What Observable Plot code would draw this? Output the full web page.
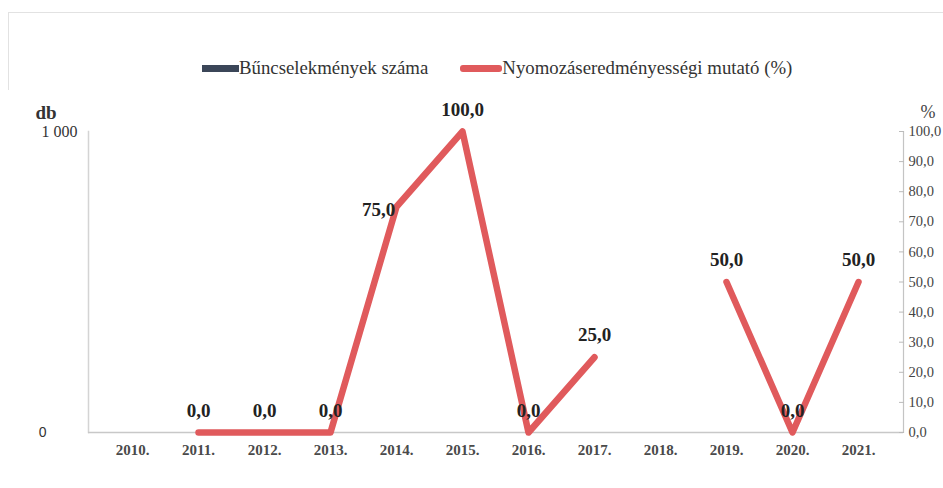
<!DOCTYPE html>
<html><head><meta charset="utf-8">
<script src="https://cdn.jsdelivr.net/npm/d3@7"></script>
<script src="https://cdn.jsdelivr.net/npm/@observablehq/plot@0.6"></script>
<style>
body{margin:0;background:#fff;}
#wrap{position:relative;width:943px;height:488px;overflow:hidden;background:#fff;}
#border{position:absolute;left:8px;top:12px;width:940px;height:480px;border-top:1px solid #e2e2e2;border-left:1px solid #e2e2e2;}
#legend{position:relative;height:90px;box-sizing:border-box;padding-top:46px;padding-left:202px;display:flex;align-items:center;font-family:"Liberation Serif","DejaVu Serif",serif;font-size:18.8px;color:#333;}
.sw{display:inline-block;height:7px;}
#chart{position:relative;}
</style></head>
<body>
<div id="wrap">
<div id="border"></div>
<div id="legend">
  <span class="sw" style="width:37px;background:#3b4658;"></span><span>Bűncselekmények száma</span>
  <span class="sw" style="width:42px;background:#e05a5c;border-radius:3px;margin-left:32px;"></span><span>Nyomozáseredményességi mutató (%)</span>
</div>
<div id="chart"></div>
</div>
<script>
const years = ["2010","2011","2012","2013","2014","2015","2016","2017","2018","2019","2020","2021"];
const crimeCounts = [0,0,0,0,0,0,0,0,0,0,0,0];
const detectionRate = [null,0,0,0,75,100,0,25,null,50,0,50];
const rightTicks = [0,10,20,30,40,50,60,70,80,90,100];

const data = years.map((y,i)=>({year:y, count:crimeCounts[i], pct:detectionRate[i]}));
const labelData = data.filter(d=>d.pct!=null && d.pct!==75);
const label75 = data.filter(d=>d.pct===75);
const fmt = v => v.toFixed(1).replace(".", ",");
const serif = "'Liberation Serif', 'DejaVu Serif', serif";

const chart = Plot.plot({
  width: 943,
  height: 398,
  marginLeft: 88,
  marginRight: 40,
  marginTop: 41,
  marginBottom: 56,
  style: {background:"#fff", overflow:"visible"},
  x: {type:"band", domain: years, padding: 0.3},
  y: {domain:[0,100]},
  marks: [
    Plot.frame({anchor:"left", stroke:"#d4d4d4", strokeWidth:1.5}),
    Plot.frame({anchor:"right", stroke:"#c4c4c4", strokeWidth:1.2}),
    Plot.ruleY([0], {stroke:"#c8c8c8", strokeWidth:1.5}),
    Plot.barY(data, {x:"year", y: d=>d.count/10, fill:"#3b4658"}),
    Plot.axisX({tickSize:0, tickPadding:12, tickFormat: d=>d+".", fontFamily:serif, fontWeight:"bold", fontSize:15, fill:"#4a4a4a", label:null}),
    Plot.axisY({anchor:"left", ticks:[100], tickSize:0, tickPadding:11, tickFormat:()=> "1 000", fontFamily:serif, fontSize:16, fill:"#333", label:null}),
    Plot.axisY({anchor:"left", ticks:[0], tickSize:0, tickPadding:42, tickFormat:()=> "0", fontFamily:"'Liberation Sans', Arial, sans-serif", fontSize:14, fill:"#333", label:null}),
    Plot.axisY({anchor:"right", ticks:rightTicks, tickSize:-5, tickPadding:10, tickFormat: fmt, fontFamily:serif, fontSize:14.5, fill:"#444", stroke:"#bbb", label:null}),
    Plot.line(data, {x:"year", y:"pct", stroke:"#e05a5c", strokeWidth:6.5, curve:"linear"}),
    Plot.text(labelData, {x:"year", y:"pct", text: d=>fmt(d.pct), dy:-22, fontFamily:serif, fontWeight:"bold", fontSize:19, fill:"#222"}),
    Plot.text(label75, {x:"year", y:"pct", text: d=>fmt(d.pct), dx:-18, dy:3, fontFamily:serif, fontWeight:"bold", fontSize:19, fill:"#222"}),
    Plot.text(["db"], {frameAnchor:"top-left", dx:-53, dy:-26, fontFamily:serif, fontWeight:"bold", fontSize:19, fill:"#333"}),
    Plot.text(["%"], {frameAnchor:"top-right", dx:32, dy:-26, fontFamily:serif, fontSize:18, fill:"#444"})
  ]
});
document.getElementById("chart").appendChild(chart);
</script>
</body></html>
